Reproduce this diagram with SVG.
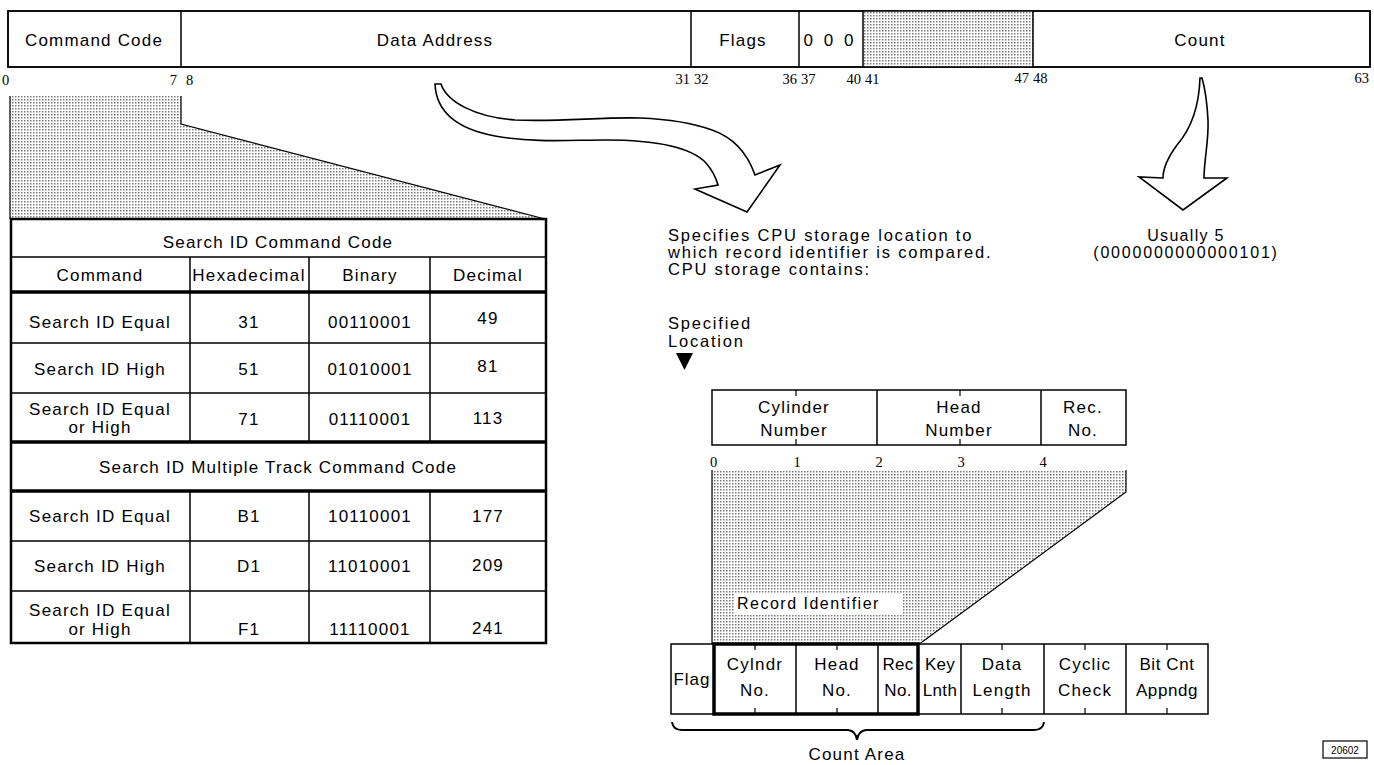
<svg xmlns="http://www.w3.org/2000/svg" width="1374" height="765" viewBox="0 0 1374 765">
<defs>
<pattern id="dots" width="3" height="3" patternUnits="userSpaceOnUse">
<rect width="3" height="3" fill="#ffffff"/>
<rect x="0" y="0" width="1.5" height="1.5" fill="#7a7a7a"/>
</pattern>
<style>
.t{font-family:"Liberation Sans",Arial,sans-serif;font-size:17px;letter-spacing:1.2px;fill:#000}
.s{font-size:16px;letter-spacing:1.3px}
.d{font-size:16.5px;letter-spacing:1.8px}
.c{text-anchor:middle}
.e{text-anchor:end}
.n{font-family:"Liberation Serif","Times New Roman",serif;font-size:14.5px;fill:#000}
.ln{stroke:#000;stroke-width:1.5;fill:none}
.bx{stroke:#000;stroke-width:1.5;fill:#fff}
.tk{stroke:#000;stroke-width:3.5;fill:none}
.sh{fill:url(#dots);stroke:none}
.ar{fill:#fff;stroke:#000;stroke-width:1.6;stroke-linejoin:miter}
</style>
</defs>
<rect width="1374" height="765" fill="#fff"/>

<!-- Top CCW bar -->
<g id="ccw">
<rect x="8" y="11" width="1362" height="56" class="bx"/>
<rect x="863" y="11" width="170" height="56" class="sh"/>
<path class="ln" d="M181,11V67M691,11V67M799,11V67M863,11V67M1033,11V67"/>
<rect x="8" y="11" width="1362" height="56" class="ln"/>
<text x="94" y="46" class="t c">Command Code</text>
<text x="435" y="46" class="t c">Data Address</text>
<text x="743" y="46" class="t c">Flags</text>
<text x="830" y="46" class="t c" style="letter-spacing:3px">0 0 0</text>
<text x="1200" y="46" class="t c">Count</text>
<text x="2" y="85" class="n">0</text>
<text x="177" y="85" class="n e">7</text>
<text x="186" y="85" class="n">8</text>
<text x="690" y="84" class="n e">31</text>
<text x="694" y="84" class="n">32</text>
<text x="797" y="84" class="n e">36</text>
<text x="801" y="84" class="n">37</text>
<text x="861" y="84" class="n e">40</text>
<text x="865" y="84" class="n">41</text>
<text x="1029" y="83" class="n e">47</text>
<text x="1033" y="83" class="n">48</text>
<text x="1369" y="83" class="n e">63</text>
</g>

<!-- Shaded expansion of command code -->
<g id="cmd-expand">
<polygon points="10,96 181,96 181,124 545,219 10,219" class="sh"/>
<path class="ln" d="M10,96V219M181,96V124L545,219" style="stroke-width:1.2"/>
</g>

<!-- Command code table -->
<g id="cmd-table">
<rect x="11" y="219" width="535" height="424" fill="#fff"/>
<path class="ln" d="M11,257H546M11,343H546M11,393H546M11,541H546M11,591H546"/>
<path class="ln" d="M190,257V442M309,257V442M430,257V442M190,491V643M309,491V643M430,491V643"/>
<path class="tk" d="M11,292H546M11,442H546M11,491H546"/>
<rect x="11" y="219" width="535" height="424" fill="none" stroke="#000" stroke-width="2.5"/>
<text x="278" y="248" class="t c">Search ID Command Code</text>
<text x="100" y="281" class="t c">Command</text>
<text x="249" y="281" class="t c" style="letter-spacing:1.4px">Hexadecimal</text>
<text x="370" y="281" class="t c">Binary</text>
<text x="488" y="281" class="t c">Decimal</text>

<text x="100" y="328" class="t c">Search ID Equal</text>
<text x="249" y="328" class="t c">31</text>
<text x="370" y="328" class="t c">00110001</text>
<text x="488" y="324" class="t c">49</text>

<text x="100" y="375" class="t c">Search ID High</text>
<text x="249" y="375" class="t c">51</text>
<text x="370" y="375" class="t c">01010001</text>
<text x="488" y="372" class="t c">81</text>

<text x="100" y="415" class="t c">Search ID Equal</text>
<text x="100" y="433" class="t c">or High</text>
<text x="249" y="425" class="t c">71</text>
<text x="370" y="425" class="t c">01110001</text>
<text x="488" y="424" class="t c">113</text>

<text x="278" y="473" class="t c">Search ID Multiple Track Command Code</text>

<text x="100" y="522" class="t c">Search ID Equal</text>
<text x="249" y="522" class="t c">B1</text>
<text x="370" y="522" class="t c">10110001</text>
<text x="488" y="522" class="t c">177</text>

<text x="100" y="572" class="t c">Search ID High</text>
<text x="249" y="572" class="t c">D1</text>
<text x="370" y="572" class="t c">11010001</text>
<text x="488" y="571" class="t c">209</text>

<text x="100" y="616" class="t c">Search ID Equal</text>
<text x="100" y="635" class="t c">or High</text>
<text x="249" y="635" class="t c">F1</text>
<text x="370" y="635" class="t c">11110001</text>
<text x="488" y="634" class="t c">241</text>
</g>

<!-- Connectors (big arrows) -->
<g id="connectors">
<path class="ar" d="M435,84 C436,108 452,128 495,136 C535,143 570,140 605,140 C650,140 690,146 706,163 C713,171 716,178 718,185 L695,189 L747,212 L780,165 L755,175 C748,155 735,138 712,130 C690,122 665,119 640,118 C600,117 560,122 515,120 C475,117 447,102 441,84 Z"/>
<path class="ar" d="M1200,78 C1199,110 1190,130 1177,145 C1166,160 1163,170 1163,178 L1139,177 L1183,210 L1227,178 L1204,178 C1204,160 1209,140 1208,120 C1207,100 1204,85 1202,78 Z"/>
<polygon points="676,353 693,353 684.5,370" fill="#000"/>
</g>

<!-- Descriptions -->
<g id="desc-address">
<text x="668" y="241" class="t d">Specifies CPU storage location to</text>
<text x="668" y="258" class="t d">which record identifier is compared.</text>
<text x="668" y="275" class="t d">CPU storage contains:</text>
<text x="668" y="329" class="t d">Specified</text>
<text x="668" y="347" class="t d">Location</text>
</g>
<g id="desc-count">
<text x="1186" y="241" class="t s c">Usually 5</text>
<text x="1186" y="258" class="t s c" style="letter-spacing:1.8px">(0000000000000101)</text>
</g>

<!-- CPU storage field -->
<g id="cpu-storage">
<rect x="712" y="390" width="414" height="55" class="bx"/>
<path class="ln" d="M877,390V445M1041,390V445"/>
<path class="ln" d="M796,390V396M796,439V445M960,390V396M960,439V445" style="stroke-width:1.2"/>
<text x="794" y="413" class="t c">Cylinder</text>
<text x="794" y="436" class="t c">Number</text>
<text x="959" y="413" class="t c">Head</text>
<text x="959" y="436" class="t c">Number</text>
<text x="1083" y="413" class="t c">Rec.</text>
<text x="1083" y="436" class="t c">No.</text>
<text x="710" y="467" class="n">0</text>
<text x="797" y="467" class="n c">1</text>
<text x="879" y="467" class="n c">2</text>
<text x="961" y="467" class="n c">3</text>
<text x="1043" y="467" class="n c">4</text>
</g>

<!-- Shaded record identifier mapping -->
<g id="rid-expand">
<polygon points="712,470 1126,470 1126,492 918,645 712,645" class="sh"/>
<path class="ln" d="M712,470V645M1126,470V492L918,645" style="stroke-width:1.2"/>
<rect x="734" y="593" width="168" height="22" fill="#fff"/>
<text x="737" y="609" class="t s" style="letter-spacing:1.5px">Record Identifier</text>
</g>

<!-- Count area fields -->
<g id="count-area">
<rect x="671" y="644" width="537" height="70" class="bx"/>
<path class="ln" d="M796,644V714M878,644V714M961,644V714M1044,644V714M1126,644V714"/>
<path class="ln" d="M755,644V650M755,708V714M837,644V650M837,708V714M1002,644V650M1002,708V714M1085,644V650M1085,708V714M1167,644V650M1167,708V714" style="stroke-width:1.2"/>
<rect x="714" y="644" width="204" height="70" class="tk"/>
<text x="692" y="685" class="t c" style="letter-spacing:1px">Flag</text>
<text x="755" y="670" class="t c">Cylndr</text>
<text x="755" y="696" class="t c">No.</text>
<text x="837" y="670" class="t c">Head</text>
<text x="837" y="696" class="t c">No.</text>
<text x="898" y="670" class="t c" style="letter-spacing:0.3px">Rec</text>
<text x="898" y="696" class="t c" style="letter-spacing:0.3px">No.</text>
<text x="940" y="670" class="t c" style="letter-spacing:0.3px">Key</text>
<text x="940" y="696" class="t c" style="letter-spacing:0.3px">Lnth</text>
<text x="1002" y="670" class="t c">Data</text>
<text x="1002" y="696" class="t c">Length</text>
<text x="1085" y="670" class="t c">Cyclic</text>
<text x="1085" y="696" class="t c">Check</text>
<text x="1167" y="670" class="t c" style="letter-spacing:0.6px">Bit Cnt</text>
<text x="1167" y="696" class="t c" style="letter-spacing:0.6px">Appndg</text>
<path d="M672,722 Q673,730 682,730 L848,730 Q856,731 857,740 Q858,731 866,730 L1034,730 Q1043,730 1044,722" fill="none" stroke="#000" stroke-width="2"/>
<text x="857" y="760" class="t c">Count Area</text>
</g>

<g id="figno">
<rect x="1323" y="741" width="44" height="17" fill="#fff" stroke="#000" stroke-width="1.2"/>
<text x="1345" y="754" font-family="Liberation Sans, Arial, sans-serif" font-size="10" text-anchor="middle">20602</text>
</g>
</svg>
